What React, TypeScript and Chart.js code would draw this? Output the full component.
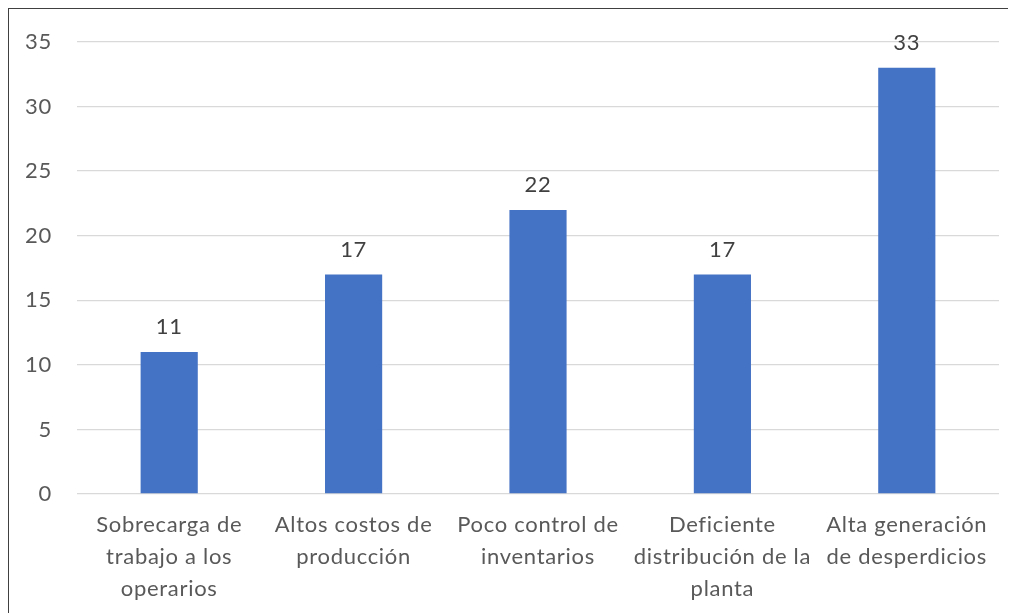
import React, { useEffect, useRef } from "react";
import { Chart, registerables } from "chart.js";

Chart.register(...registerables);

const categories: string[][] = [
  ["Sobrecarga de", "trabajo a los", "operarios"],
  ["Altos costos de", "producción"],
  ["Poco control de", "inventarios"],
  ["Deficiente", "distribución de la", "planta"],
  ["Alta generación", "de desperdicios"],
];
const values: number[] = [11, 17, 22, 17, 33];
const yMin = 0;
const yMax = 35;
const yStep = 5;

const FONT = "Lato, 'Open Sans', sans-serif";
const SIZE = 22;

const spacingPlugin = {
  id: "letterSpacing",
  beforeInit(chart: any) {
    (chart.ctx as any).letterSpacing = "0.7px";
  },
  beforeDraw(chart: any) {
    (chart.ctx as any).letterSpacing = "0.7px";
  },
};

const dataLabelPlugin = {
  id: "dataLabels",
  afterDatasetsDraw(chart: any) {
    const ctx = chart.ctx;
    const meta = chart.getDatasetMeta(0);
    ctx.save();
    ctx.font = `${SIZE}px ${FONT}`;
    (ctx as any).letterSpacing = "0.7px";
    ctx.fillStyle = "#404040";
    ctx.textAlign = "center";
    ctx.textBaseline = "middle";
    meta.data.forEach((bar: any, i: number) => {
      ctx.fillText(String(values[i]), bar.x, bar.y - 25);
    });
    ctx.restore();
  },
};

export default function App() {
  const ref = useRef<HTMLCanvasElement>(null);
  useEffect(() => {
    if (!ref.current) return;
    const chart = new Chart(ref.current, {
      type: "bar",
      data: {
        labels: categories,
        datasets: [
          {
            data: values,
            backgroundColor: "#4472C4",
            barPercentage: 0.31,
            categoryPercentage: 1,
          },
        ],
      },
      options: {
        animation: false,
        responsive: false,
        devicePixelRatio: 1,
        layout: { padding: { left: 0, top: 33, right: 17, bottom: 0 } },
        plugins: { legend: { display: false }, tooltip: { enabled: false } },
        scales: {
          x: {
            grid: { display: false, drawTicks: false },
            border: { display: false },
            ticks: {
              color: "#595959",
              font: { family: FONT, size: SIZE, lineHeight: "32px" as any },
              padding: 15,
              maxRotation: 0,
              minRotation: 0,
              autoSkip: false,
            },
            afterFit(scale: any) {
              scale.height = 119;
            },
          },
          y: {
            min: yMin,
            max: yMax,
            grid: { color: "#d9d9d9", lineWidth: 1.3, drawTicks: false },
            border: { display: false },
            ticks: {
              stepSize: yStep,
              color: "#595959",
              font: { family: FONT, size: SIZE },
              padding: 25,
            },
            afterFit(scale: any) {
              scale.width = 68;
              scale.paddingTop = 13;
              scale.paddingBottom = 13;
            },
          },
        },
      },
      plugins: [spacingPlugin, dataLabelPlugin],
    });
    return () => chart.destroy();
  }, []);
  return (
    <div
      style={{
        width: 1008,
        height: 605,
        borderTop: "1px solid #404040",
        borderLeft: "1px solid #404040",
        boxSizing: "border-box",
        background: "#fff",
      }}
    >
      <canvas ref={ref} width={1007} height={604} style={{ display: "block" }} />
    </div>
  );
}
